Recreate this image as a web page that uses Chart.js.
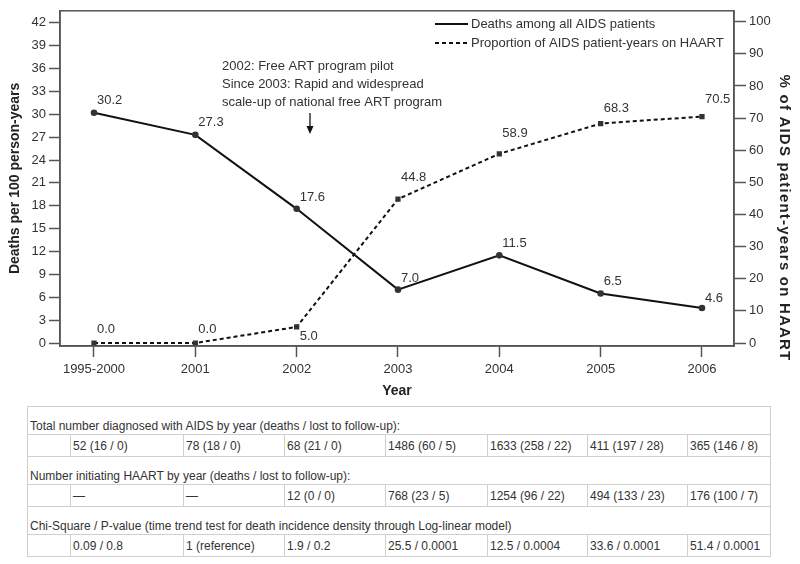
<!DOCTYPE html>
<html>
<head>
<meta charset="utf-8">
<script src="https://cdn.jsdelivr.net/npm/chart.js@4/dist/chart.umd.min.js"></script>
<style>
  html, body { margin: 0; padding: 0; background: #fff; }
  body { width: 800px; height: 564px; position: relative; overflow: hidden; font-family: "Liberation Sans", Arial, sans-serif; }
  #wrap { position: absolute; left: 0; top: 0; width: 800px; height: 400px; }
  table { position: absolute; left: 27px; top: 406px; border-collapse: collapse; table-layout: fixed; width: 743px;
          font-family: "Liberation Sans", Arial, sans-serif; font-size: 12px; color: #333; }
  td { border: 1px solid #cfcfcf; padding: 0 2px; white-space: nowrap; overflow: hidden; }
  tr.head td { height: 26px; vertical-align: bottom; padding-bottom: 1px; }
  tr.data td { height: 21px; vertical-align: middle; }
</style>
</head>
<body>
<div id="wrap"><canvas id="c" width="800" height="400"></canvas></div>
<table id="tbl">
  <colgroup>
    <col style="width:43px"><col style="width:113px"><col style="width:101px"><col style="width:101px">
    <col style="width:102px"><col style="width:100px"><col style="width:100px"><col style="width:83px">
  </colgroup>
  <tbody id="tb"></tbody>
</table>
<script>
// ---- data ----
const categories = ['1995-2000', '2001', '2002', '2003', '2004', '2005', '2006'];
const deaths = [30.2, 27.3, 17.6, 7.0, 11.5, 6.5, 4.6];
const haart = [0.0, 0.0, 5.0, 44.8, 58.9, 68.3, 70.5];
const leftTicks = [0, 3, 6, 9, 12, 15, 18, 21, 24, 27, 30, 33, 36, 39, 42];
const rightTicks = [0, 10, 20, 30, 40, 50, 60, 70, 80, 90, 100];
const seriesNames = ['Deaths among all AIDS patients', 'Proportion of AIDS patient-years on HAART'];
const annotationLines = ['2002: Free ART program pilot', 'Since 2003: Rapid and widespread', 'scale-up of national free ART program'];
const tableTitles = [
  'Total number diagnosed with AIDS by year (deaths / lost to follow-up):',
  'Number initiating HAART by year (deaths / lost to follow-up):',
  'Chi-Square / P-value (time trend test for death incidence density through Log-linear model)'
];
const totalDiagnosed = ['52 (16 / 0)', '78 (18 / 0)', '68 (21 / 0)', '1486 (60 / 5)', '1633 (258 / 22)', '411 (197 / 28)', '365 (146 / 8)'];
const initiatingHaart = ['\u2014', '\u2014', '12 (0 / 0)', '768 (23 / 5)', '1254 (96 / 22)', '494 (133 / 23)', '176 (100 / 7)'];
const chiSquare = ['0.09 / 0.8', '1 (reference)', '1.9 / 0.2', '25.5 / 0.0001', '12.5 / 0.0004', '33.6 / 0.0001', '51.4 / 0.0001'];

// ---- table ----
const tb = document.getElementById('tb');
[[tableTitles[0], totalDiagnosed], [tableTitles[1], initiatingHaart], [tableTitles[2], chiSquare]].forEach(([title, row]) => {
  const h = document.createElement('tr'); h.className = 'head';
  const td = document.createElement('td'); td.colSpan = 8; td.textContent = title; h.appendChild(td); tb.appendChild(h);
  const r = document.createElement('tr'); r.className = 'data';
  r.appendChild(document.createElement('td'));
  row.forEach(v => { const c = document.createElement('td'); c.textContent = v; r.appendChild(c); });
  tb.appendChild(r);
});

// ---- styling for value labels (offsets in px) ----
const labelDy = [
  [-12, -12, -11, -11, -12, -12, -10],
  [-14, -14, 9, -22, -20, -15, -17]
];

const FONT = '"Liberation Sans", Arial, sans-serif';
const TXT = '#333';
const AX = '#555';

const extras = {
  id: 'extras',
  afterDatasetsDraw(chart) {
    const ctx = chart.ctx, a = chart.chartArea;
    ctx.save();
    // frame
    ctx.strokeStyle = AX; ctx.lineWidth = 1.5;
    ctx.strokeRect(a.left, a.top, a.right - a.left, a.bottom - a.top);
    // value labels
    ctx.font = '13px ' + FONT; ctx.fillStyle = TXT; ctx.textAlign = 'left'; ctx.textBaseline = 'middle';
    chart.data.datasets.forEach((ds, di) => {
      chart.getDatasetMeta(di).data.forEach((p, i) => {
        ctx.fillText(ds.data[i].y.toFixed(1), p.x + 3, p.y + labelDy[di][i]);
      });
    });
    // legend
    ctx.lineWidth = 2; ctx.strokeStyle = '#111';
    [0, 1].forEach(k => {
      const y = 24 + k * 19;
      ctx.setLineDash(k ? [4, 3] : []);
      ctx.beginPath(); ctx.moveTo(435, y); ctx.lineTo(468, y); ctx.stroke();
      ctx.setLineDash([]);
      ctx.fillText(seriesNames[k], 471, y);
    });
    // annotation
    annotationLines.forEach((t, k) => ctx.fillText(t, 222, 66 + k * 18));
    ctx.lineWidth = 1.3;
    ctx.beginPath(); ctx.moveTo(310, 113); ctx.lineTo(310, 132); ctx.stroke();
    ctx.fillStyle = '#111';
    ctx.beginPath(); ctx.moveTo(306.5, 126); ctx.lineTo(310, 134); ctx.lineTo(313.5, 126); ctx.closePath(); ctx.fill();
    // axis titles
    ctx.fillStyle = '#222';
    ctx.font = 'bold 14px ' + FONT; ctx.textAlign = 'center';
    ctx.fillText('Year', (a.left + a.right) / 2, 391);
    ctx.save(); ctx.translate(15, (a.top + a.bottom) / 2); ctx.rotate(-Math.PI / 2);
    ctx.fillText('Deaths per 100 person-years', 0, 0); ctx.restore();
    ctx.save(); ctx.translate(784, 218); ctx.rotate(Math.PI / 2);
    ctx.font = 'bold 15px ' + FONT;
    try { ctx.letterSpacing = '1.2px'; } catch (e) {}
    ctx.fillText('% of AIDS patient-years on HAART', 0, 0); ctx.restore();
    ctx.restore();
  }
};

const tickFont = { family: FONT, size: 13 };
new Chart(document.getElementById('c'), {
  type: 'line',
  data: {
    datasets: [
      { label: seriesNames[0], data: deaths.map((v, i) => ({ x: i, y: v })), yAxisID: 'y',
        borderColor: '#111', borderWidth: 2, pointRadius: 2.3, pointBackgroundColor: '#333', pointBorderColor: '#333', tension: 0 },
      { label: seriesNames[1], data: haart.map((v, i) => ({ x: i, y: v })), yAxisID: 'y1',
        borderColor: '#111', borderWidth: 2, borderDash: [4, 3], pointRadius: 2.3, pointStyle: 'rect',
        pointBackgroundColor: '#333', pointBorderColor: '#333', tension: 0 }
    ]
  },
  options: {
    responsive: false, animation: false,
    layout: { padding: { top: 10, left: 0, right: 0, bottom: 0 } },
    plugins: { legend: { display: false }, tooltip: { enabled: false } },
    scales: {
      x: {
        type: 'linear', position: 'bottom', min: -0.3355, max: 6.316,
        afterBuildTicks: s => { s.ticks = categories.map((c, i) => ({ value: i })); },
        afterFit: s => { s.height = 54; },
        ticks: { callback: v => categories[v], font: tickFont, color: TXT, padding: 5, maxRotation: 0, autoSkip: false },
        grid: { drawOnChartArea: false, drawTicks: true, tickLength: 11, tickColor: AX, tickWidth: 1.5 },
        border: { color: AX, width: 1.5 }
      },
      y: {
        type: 'linear', position: 'left', min: -0.39, max: 43.57,
        afterBuildTicks: s => { s.ticks = leftTicks.map(v => ({ value: v })); },
        afterFit: s => { s.width = 60; },
        ticks: { font: tickFont, color: TXT, padding: 3, callback: v => String(v) },
        grid: { drawOnChartArea: false, drawTicks: true, tickLength: 11, tickColor: AX, tickWidth: 1.5 },
        border: { color: AX, width: 1.5 }
      },
      y1: {
        type: 'linear', position: 'right', min: -0.93, max: 103.4,
        afterBuildTicks: s => { s.ticks = rightTicks.map(v => ({ value: v })); },
        afterFit: s => { s.width = 66; },
        ticks: { font: tickFont, color: TXT, padding: 3, callback: v => String(v) },
        grid: { drawOnChartArea: false, drawTicks: true, tickLength: 12, tickColor: AX, tickWidth: 1.5 },
        border: { color: AX, width: 1.5 }
      }
    }
  },
  plugins: [extras]
});
</script>
</body>
</html>
